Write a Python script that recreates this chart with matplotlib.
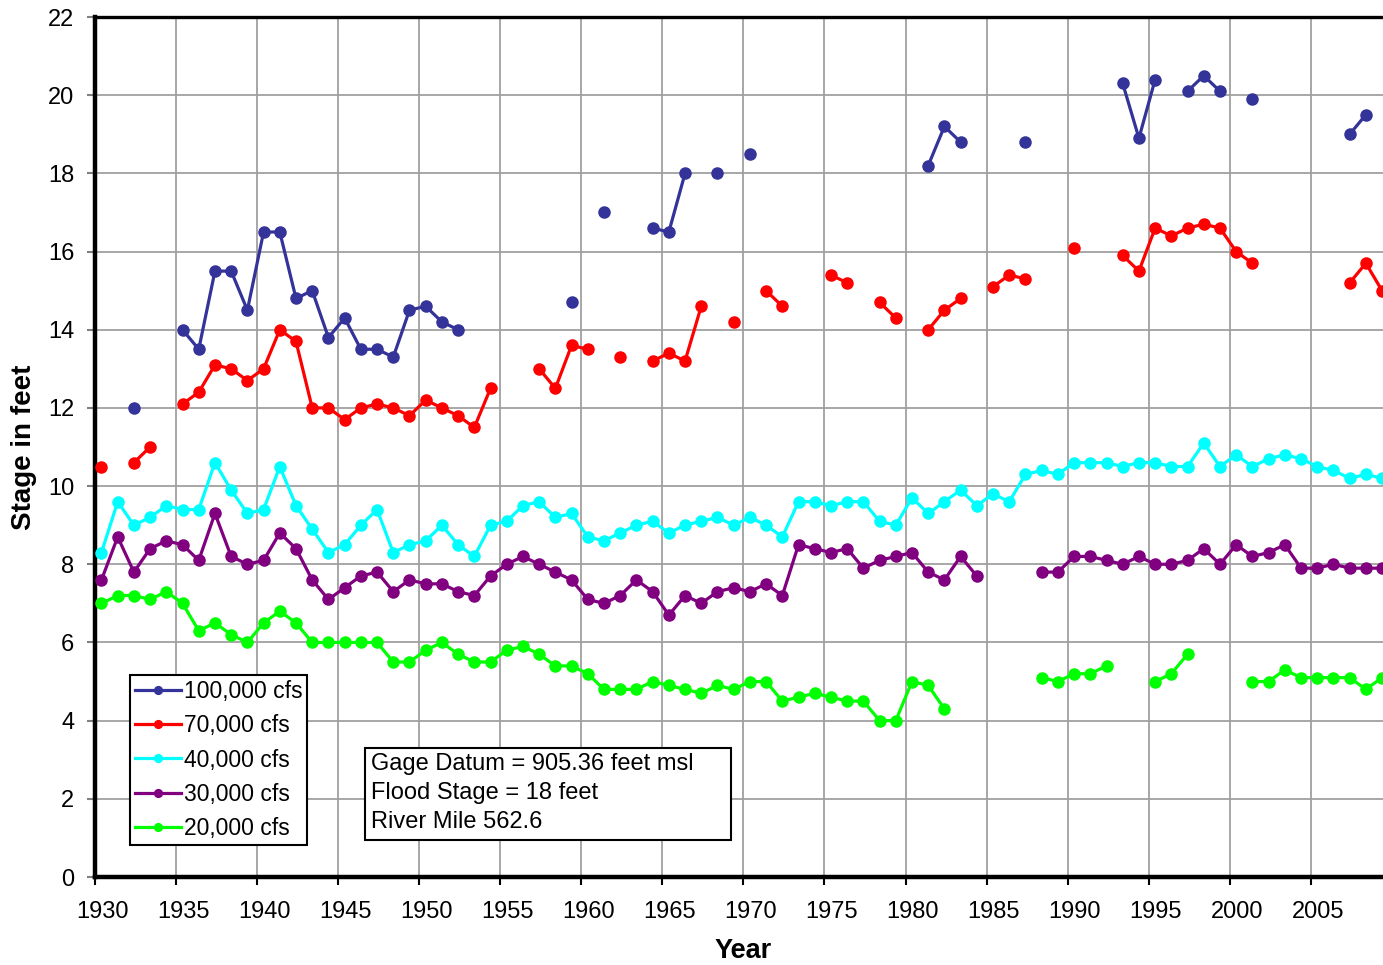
import numpy as np
import matplotlib
matplotlib.use('Agg')
import matplotlib.pyplot as plt
from matplotlib.patches import Rectangle

plt.rcParams['font.family'] = ['Liberation Sans', 'DejaVu Sans']

nan = np.nan

years = np.arange(1930, 2010)

# 100,000 cfs
stage_100k = [nan, nan, 12.0, nan, nan,
              14.0, 13.5, 15.5, 15.5, 14.5,
              16.5, 16.5, 14.8, 15.0, 13.8,
              14.3, 13.5, 13.5, 13.3, 14.5,
              14.6, 14.2, 14.0, nan, nan,
              nan, nan, nan, nan, 14.7,
              nan, 17.0, nan, nan, 16.6,
              16.5, 18.0, nan, 18.0, nan,
              18.5, nan, nan, nan, nan,
              nan, nan, nan, nan, nan,
              nan, 18.2, 19.2, 18.8, nan,
              nan, nan, 18.8, nan, nan,
              nan, nan, nan, 20.3, 18.9,
              20.4, nan, 20.1, 20.5, 20.1,
              nan, 19.9, nan, nan, nan,
              nan, nan, 19.0, 19.5, nan]

# 70,000 cfs
stage_70k = [10.5, nan, 10.6, 11.0, nan,
             12.1, 12.4, 13.1, 13.0, 12.7,
             13.0, 14.0, 13.7, 12.0, 12.0,
             11.7, 12.0, 12.1, 12.0, 11.8,
             12.2, 12.0, 11.8, 11.5, 12.5,
             nan, nan, 13.0, 12.5, 13.6,
             13.5, nan, 13.3, nan, 13.2,
             13.4, 13.2, 14.6, nan, 14.2,
             nan, 15.0, 14.6, nan, nan,
             15.4, 15.2, nan, 14.7, 14.3,
             nan, 14.0, 14.5, 14.8, nan,
             15.1, 15.4, 15.3, nan, nan,
             16.1, nan, nan, 15.9, 15.5,
             16.6, 16.4, 16.6, 16.7, 16.6,
             16.0, 15.7, nan, nan, nan,
             nan, nan, 15.2, 15.7, 15.0]

# 40,000 cfs
stage_40k = [8.3, 9.6, 9.0, 9.2, 9.5,
             9.4, 9.4, 10.6, 9.9, 9.3,
             9.4, 10.5, 9.5, 8.9, 8.3,
             8.5, 9.0, 9.4, 8.3, 8.5,
             8.6, 9.0, 8.5, 8.2, 9.0,
             9.1, 9.5, 9.6, 9.2, 9.3,
             8.7, 8.6, 8.8, 9.0, 9.1,
             8.8, 9.0, 9.1, 9.2, 9.0,
             9.2, 9.0, 8.7, 9.6, 9.6,
             9.5, 9.6, 9.6, 9.1, 9.0,
             9.7, 9.3, 9.6, 9.9, 9.5,
             9.8, 9.6, 10.3, 10.4, 10.3,
             10.6, 10.6, 10.6, 10.5, 10.6,
             10.6, 10.5, 10.5, 11.1, 10.5,
             10.8, 10.5, 10.7, 10.8, 10.7,
             10.5, 10.4, 10.2, 10.3, 10.2]

# 30,000 cfs
stage_30k = [7.6, 8.7, 7.8, 8.4, 8.6,
             8.5, 8.1, 9.3, 8.2, 8.0,
             8.1, 8.8, 8.4, 7.6, 7.1,
             7.4, 7.7, 7.8, 7.3, 7.6,
             7.5, 7.5, 7.3, 7.2, 7.7,
             8.0, 8.2, 8.0, 7.8, 7.6,
             7.1, 7.0, 7.2, 7.6, 7.3,
             6.7, 7.2, 7.0, 7.3, 7.4,
             7.3, 7.5, 7.2, 8.5, 8.4,
             8.3, 8.4, 7.9, 8.1, 8.2,
             8.3, 7.8, 7.6, 8.2, 7.7,
             nan, nan, nan, 7.8, 7.8,
             8.2, 8.2, 8.1, 8.0, 8.2,
             8.0, 8.0, 8.1, 8.4, 8.0,
             8.5, 8.2, 8.3, 8.5, 7.9,
             7.9, 8.0, 7.9, 7.9, 7.9]

# 20,000 cfs
stage_20k = [7.0, 7.2, 7.2, 7.1, 7.3,
             7.0, 6.3, 6.5, 6.2, 6.0,
             6.5, 6.8, 6.5, 6.0, 6.0,
             6.0, 6.0, 6.0, 5.5, 5.5,
             5.8, 6.0, 5.7, 5.5, 5.5,
             5.8, 5.9, 5.7, 5.4, 5.4,
             5.2, 4.8, 4.8, 4.8, 5.0,
             4.9, 4.8, 4.7, 4.9, 4.8,
             5.0, 5.0, 4.5, 4.6, 4.7,
             4.6, 4.5, 4.5, 4.0, 4.0,
             5.0, 4.9, 4.3, nan, nan,
             nan, nan, nan, 5.1, 5.0,
             5.2, 5.2, 5.4, nan, nan,
             5.0, 5.2, 5.7, nan, nan,
             nan, 5.0, 5.0, 5.3, 5.1,
             5.1, 5.1, 5.1, 4.8, 5.1]

labels = ['100,000 cfs', '70,000 cfs', '40,000 cfs', '30,000 cfs', '20,000 cfs']
colors = ['#333399', '#ff0000', '#00ffff', '#800080', '#00ff00']
series = [stage_100k, stage_70k, stage_40k, stage_30k, stage_20k]

tick_years = np.arange(1930, 2010, 5)


fig = plt.figure(figsize=(13.83, 9.65), dpi=100)
# axes runs a little past the right edge, like the cropped original
ax = fig.add_axes([95 / 1383, 1 - 877 / 965, 1296.8 / 1383, 860 / 965])

x = years + 0.4
for vals, lab, col in zip(series, labels, colors):
    ax.plot(x, np.array(vals, dtype=float), color=col, lw=2.3, marker='o',
            ms=8, label=lab, clip_on=False, zorder=3)

ax.set_xlim(1930, 2010)
ax.set_ylim(0, 22)

# gridlines / tick marks on the years, labels sit half a year to the right
ax.set_xticks(tick_years)
ax.set_xticklabels([])
ax.set_xticks(tick_years + 0.45, minor=True)
ax.set_xticklabels([str(y) for y in tick_years], minor=True)
ax.tick_params(axis='x', which='minor', length=0, labelsize=17, pad=17)
ax.tick_params(axis='x', which='major', length=6, width=1.5, color='black')

ax.set_yticks(np.arange(0, 23, 2))
ax.tick_params(axis='y', labelsize=17, direction='out', length=6, width=1.5,
               color='#808080', pad=9)
ax.grid(True, which='major', color='#a0a0a0', lw=1.3)
ax.set_axisbelow(True)

for side in ['left', 'bottom']:
    ax.spines[side].set_linewidth(3.2)
ax.spines['top'].set_linewidth(2.4)
ax.spines['right'].set_visible(False)

ax.set_xlabel('Year', fontsize=19.5, fontweight='bold', labelpad=11)
ax.set_ylabel('Stage in feet', fontsize=20, fontweight='bold', labelpad=8)

leg = ax.legend(loc='upper left', bbox_to_anchor=(130 / 1383, 1 - 675 / 965),
                bbox_transform=fig.transFigure, fontsize=16.5, frameon=True,
                fancybox=False, edgecolor='black', framealpha=1,
                handlelength=2.0, handletextpad=0.12, labelspacing=0.49,
                borderpad=0.22, borderaxespad=0, numpoints=1, markerscale=0.7)
leg.get_frame().set_linewidth(1.5)
leg.set_zorder(5)

# info box
box = Rectangle((365 / 1383, 1 - 840 / 965), (731 - 365) / 1383, (840 - 748) / 965,
                transform=fig.transFigure, facecolor='white', edgecolor='black',
                lw=1.5, zorder=4)
fig.add_artist(box)
fig.text(371 / 1383, 1 - 753 / 965,
         'Gage Datum = 905.36 feet msl\nFlood Stage = 18 feet\nRiver Mile 562.6',
         fontsize=17, va='top', ha='left', linespacing=1.42, zorder=5)

fig.savefig('out.png', dpi=100)
